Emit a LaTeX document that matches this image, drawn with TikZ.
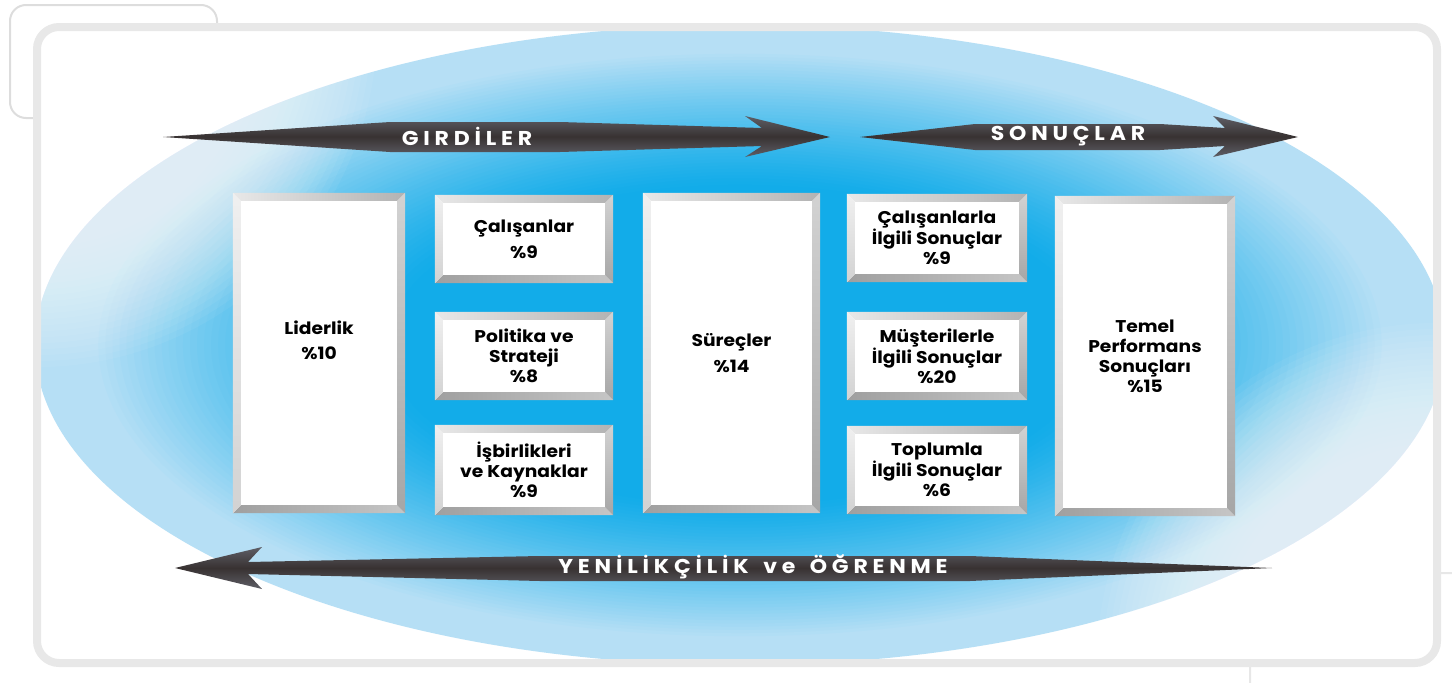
\documentclass[tikz,border=0pt]{standalone}
\usepackage{fontspec}
\setmainfont{Poppins}
\newfontfamily\boxfont{Poppins}[FakeStretch=1.1]
\newfontfamily\arrfont{Poppins}[LetterSpace=24,FakeStretch=1.1]
\usetikzlibrary{calc}
\definecolor{eba}{HTML}{12ACE9}
\definecolor{ebf}{HTML}{B6DFF5}
\definecolor{framegray}{HTML}{E8E8E8}
\definecolor{tabgray}{HTML}{DDDDDD}
\definecolor{arrdark}{HTML}{383232}
\definecolor{arredge}{HTML}{5E5E66}
\tikzset{
  boxn/.style={fill=white, inner sep=0pt, align=center, text=black,
    font=\boxfont\bfseries\fontsize{17}{20}\selectfont},
  arrtext/.style={text=white, inner sep=0pt, font=\arrfont\bfseries\fontsize{20}{22}\selectfont},
  arrbody/.style={top color=arredge, bottom color=arredge, middle color=arrdark},
  glow/.style={white, fill opacity=0.05},
}
\newcommand\bevel[1]{%
  \shade[left color=gray!18, right color=gray!60] (#1.north west) -- (#1.north east) -- ([shift={(-8,8)}]#1.north east) -- ([shift={(8,8)}]#1.north west) -- cycle;
  \shade[left color=gray!75, right color=gray!45] (#1.south west) -- (#1.south east) -- ([shift={(-8,-8)}]#1.south east) -- ([shift={(8,-8)}]#1.south west) -- cycle;
  \shade[top color=gray!12, bottom color=gray!35] (#1.north west) -- (#1.south west) -- ([shift={(8,-8)}]#1.south west) -- ([shift={(8,8)}]#1.north west) -- cycle;
  \shade[top color=gray!35, bottom color=gray!70] (#1.north east) -- (#1.south east) -- ([shift={(-8,-8)}]#1.south east) -- ([shift={(-8,8)}]#1.north east) -- cycle;
}
\begin{document}
\begin{tikzpicture}[x=1pt, y=-1pt]
\useasboundingbox (0,0) rectangle (1452,683);
% background tabs
\draw[tabgray, line width=2, rounded corners=16] (10,5) rectangle (217,118);
\draw[tabgray!70, line width=2, rounded corners=16] (1250,573) rectangle (1475,705);
% main frame
\fill[white, rounded corners=22] (37,27) rectangle (1437,663);
\begin{scope}
  \clip[rounded corners=22] (37,27) rectangle (1437,663);
  \foreach \k in {0,...,60}{
    \pgfmathsetmacro\rr{1-\k*0.01}
    \pgfmathsetmacro\tt{max(0.0001,min(1,(\rr-0.5)/0.42))}
    \pgfmathsetmacro\ff{100*(\tt^1.2)}
    \fill[ebf!\ff!eba] (740,345) ellipse [x radius=705*\rr, y radius=320*\rr];
  }
  % soft white sheen in the top-left and bottom-right corners
  \foreach \rad in {220,226,...,340}{
    \fill[glow] (37,27) circle [radius=\rad];
    \fill[glow] (1437,663) circle [radius=\rad];
  }
\end{scope}
\draw[framegray, line width=8, rounded corners=22] (37,27) rectangle (1437,663);

% arrows
\shade[arrbody] (163,137) -- (390,122) -- (560,122) -- (762,128) -- (745,116) -- (830,137) -- (745,157) -- (762,146) -- (560,152) -- (390,152) -- cycle;
\node[arrtext] (girdi) at (467,136) {GIRDİLER};
\shade[arrbody] (860,137) -- (975,124) -- (1160,124) -- (1225,128) -- (1213,116) -- (1298,137) -- (1213,157) -- (1225,146) -- (1160,150) -- (975,150) -- cycle;
\node[arrtext] (sonuc) at (1068,136) {SONUÇLAR};
\shade[arrbody] (175,568) -- (262,547) -- (248,562) -- (540,556) -- (970,556) -- (1272,568) -- (970,581) -- (540,581) -- (248,574) -- (262,589) -- cycle;
\node[arrtext] (yenil) at (753,567) {YENİLİKÇİLİK\hspace{5pt} ve\hspace{5pt} ÖĞRENME};

% boxes
\node[boxn, minimum width=172, minimum height=320] (lid) at (319,353) {};
\node[boxn, fill=none] (lidt) at (319,340) {Liderlik\\[5pt]\%10};
\node[boxn, minimum width=178, minimum height=88] (cal) at (524,239) {Çalışanlar\\[6pt]\%9};
\node[boxn, minimum width=178, minimum height=88] (pol) at (524,356) {Politika ve\\Strateji\\\%8};
\node[boxn, minimum width=178, minimum height=90] (isb) at (524,470) {İşbirlikleri\\ve Kaynaklar\\\%9};
\node[boxn, minimum width=177, minimum height=320] (sur) at (731.5,353) {Süreçler\\[6pt]\%14};
\node[boxn, minimum width=180, minimum height=88] (cil) at (937,238) {Çalışanlarla\\İlgili Sonuçlar\\\%9};
\node[boxn, minimum width=180, minimum height=88] (mil) at (937,356) {Müşterilerle\\İlgili Sonuçlar\\\%20};
\node[boxn, minimum width=180, minimum height=88] (til) at (937,470) {Toplumla\\İlgili Sonuçlar\\\%6};
\node[boxn, minimum width=180, minimum height=320] (tem) at (1145,356) {Temel\\Performans\\Sonuçları\\\%15};
\foreach \b in {lid,cal,pol,isb,sur,cil,mil,til,tem}{\bevel{\b}}
\end{tikzpicture}
\end{document}
